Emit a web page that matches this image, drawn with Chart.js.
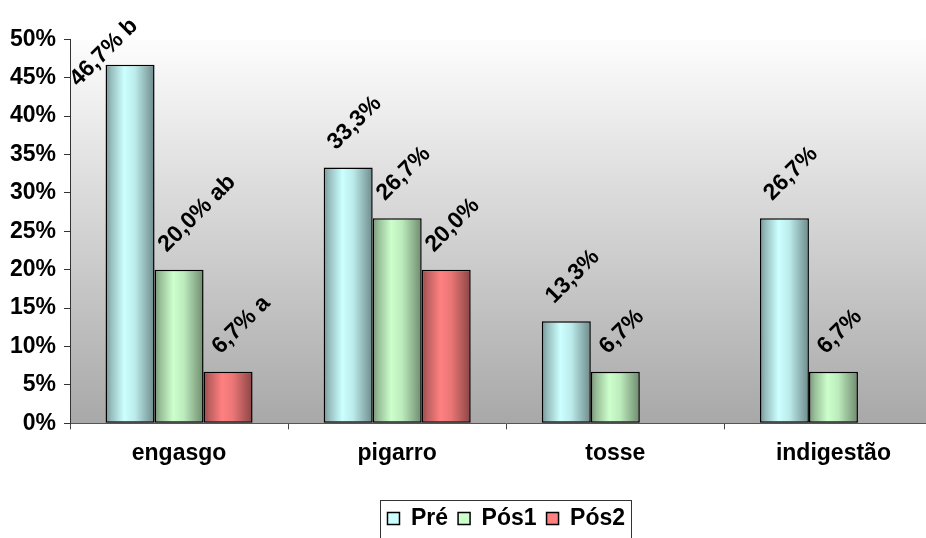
<!DOCTYPE html>
<html>
<head>
<meta charset="utf-8">
<script src="https://cdn.jsdelivr.net/npm/chart.js@4.4.1/dist/chart.umd.min.js"></script>
<style>
  html, body { margin: 0; padding: 0; background: #fff; overflow: hidden; }
  #wrap { width: 926px; height: 538px; overflow: hidden; position: relative; }
  canvas { display: block; }
</style>
</head>
<body>
<div id="wrap"><canvas id="c" width="960" height="540"></canvas></div>
<script>
// Categories and series
const categories = ['engasgo', 'pigarro', 'tosse', 'indigestão'];
const seriesNames = ['Pré', 'Pós1', 'Pós2'];
const pre  = [46.7, 33.3, 13.3, 26.7];
const pos1 = [20.0, 26.7, 6.7, 6.7];
const pos2 = [6.7, 20.0, null, null];
// Significance letters appended to the value labels
const preMarks  = ['b', '', '', ''];
const pos1Marks = ['ab', '', '', ''];
const pos2Marks = ['a', '', '', ''];
// Y axis ticks (percent)
const yTicks = [0, 5, 10, 15, 20, 25, 30, 35, 40, 45, 50];

const seriesColors = ['#ccffff', '#ccffcc', '#ff8080'];
const FONT = '"Liberation Sans", Arial, Helvetica, sans-serif';

function fmt(v) { return v.toFixed(1).replace('.', ',') + '%'; }

function shade(hex, f) {
  const n = parseInt(hex.slice(1), 16);
  const r = Math.round(((n >> 16) & 255) * f);
  const g = Math.round(((n >> 8) & 255) * f);
  const b = Math.round((n & 255) * f);
  return `rgb(${r},${g},${b})`;
}

// Grey vertical gradient behind the plot area
const plotBackground = {
  id: 'plotBackground',
  beforeDraw(chart) {
    const { ctx, chartArea: a } = chart;
    ctx.save();
    ctx.fillStyle = '#fff';
    ctx.fillRect(0, 0, chart.width, chart.height);
    const g = ctx.createLinearGradient(0, a.top, 0, a.bottom);
    g.addColorStop(0, '#fdfdfd');
    g.addColorStop(1, '#a8a8a8');
    ctx.fillStyle = g;
    ctx.fillRect(a.left, a.top, a.right - a.left, a.bottom - a.top);
    ctx.restore();
  }
};

// Cylinder-like horizontal shading of every bar
const barShading = {
  id: 'barShading',
  beforeDatasetsDraw(chart) {
    const ctx = chart.ctx;
    chart.data.datasets.forEach((ds, di) => {
      const meta = chart.getDatasetMeta(di);
      const base = seriesColors[di];
      meta.data.forEach((el, i) => {
        if (ds.data[i] == null) return;
        const x = el.x, w = el.width;
        if (!isFinite(x) || !isFinite(w)) return;
        const g = ctx.createLinearGradient(x - w / 2, 0, x + w / 2, 0);
        g.addColorStop(0, shade(base, 0.58));
        g.addColorStop(0.12, shade(base, 0.75));
        g.addColorStop(0.38, shade(base, 1));
        g.addColorStop(0.6, shade(base, 0.92));
        g.addColorStop(1, shade(base, 0.54));
        el.options = Object.assign({}, el.options, { backgroundColor: g });
      });
    });
  }
};

// Rotated value labels above the bars
const valueLabels = {
  id: 'valueLabels',
  afterDatasetsDraw(chart) {
    const ctx = chart.ctx;
    const fs = 23;
    const k = Math.SQRT1_2, asc = 0.72 * fs;
    ctx.save();
    ctx.font = `bold ${fs}px ${FONT}`;
    ctx.fillStyle = '#000';
    ctx.textAlign = 'left';
    ctx.textBaseline = 'alphabetic';
    chart.data.datasets.forEach((ds, di) => {
      const meta = chart.getDatasetMeta(di);
      meta.data.forEach((el, i) => {
        const v = ds.data[i];
        if (v == null) return;
        const num = fmt(v);
        const mark = ds.marks[i];
        const text = mark ? num + ' ' + mark : num;
        const numW = ctx.measureText(num).width;
        const fullW = ctx.measureText(text).width;
        const cx = el.x + 5;
        let sx = cx - k * (numW + asc) / 2 + k * asc;
        let sy = el.y - 17;
        const textTop = sy - k * (fullW + asc);
        if (textTop < 15) { const d = 15 - textTop; sx -= d; sy += d; }
        ctx.save();
        ctx.translate(sx, sy);
        ctx.rotate(-Math.PI / 4);
        ctx.fillText(text, 0, 0);
        ctx.restore();
      });
    });
    ctx.restore();
  }
};

// Thin frame around the legend
const legendFrame = {
  id: 'legendFrame',
  afterDraw(chart) {
    const hb = chart.legend && chart.legend.legendHitBoxes;
    if (!hb || !hb.length) return;
    const ctx = chart.ctx;
    const first = hb[0], last = hb[hb.length - 1];
    const mid = first.top + first.height / 2;
    const l = Math.round(first.left - 7) + 0.5;
    const r = Math.round(last.left + last.width + 6) + 0.5;
    ctx.save();
    ctx.strokeStyle = '#333';
    ctx.lineWidth = 1;
    ctx.strokeRect(l, Math.round(mid - 19) + 0.5, r - l, 39);
    ctx.restore();
  }
};

const tickFont = { family: FONT, size: 23, weight: 'bold' };

new Chart(document.getElementById('c'), {
  type: 'bar',
  data: {
    labels: categories,
    datasets: [
      { label: seriesNames[0], data: pre,  marks: preMarks,  backgroundColor: seriesColors[0] },
      { label: seriesNames[1], data: pos1, marks: pos1Marks, backgroundColor: seriesColors[1] },
      { label: seriesNames[2], data: pos2, marks: pos2Marks, backgroundColor: seriesColors[2] }
    ]
  },
  options: {
    responsive: false,
    animation: false,
    devicePixelRatio: 1,
    layout: { padding: { left: 0, top: 39.3, right: 17.5, bottom: 0 } },
    datasets: {
      bar: {
        categoryPercentage: 0.674,
        barPercentage: 1,
        borderColor: '#000',
        borderWidth: 1.5,
        borderSkipped: false
      }
    },
    scales: {
      x: {
        grid: { display: true, drawOnChartArea: false, drawTicks: true, tickLength: 6, color: '#444', offset: true },
        border: { display: true, color: '#555', width: 1 },
        ticks: { font: tickFont, color: '#000', padding: 11, maxRotation: 0, autoSkip: false },
        afterFit(s) { s.height = 73.7; }
      },
      y: {
        min: 0,
        max: 50,
        afterBuildTicks(s) { s.ticks = yTicks.map(v => ({ value: v })); },
        grid: { display: true, drawOnChartArea: false, drawTicks: true, tickLength: 6, color: '#333' },
        border: { display: true, color: '#333', width: 1 },
        ticks: { font: tickFont, color: '#000', padding: 8, callback: v => v + '%' },
        afterFit(s) { s.width = 70; }
      }
    },
    plugins: {
      legend: {
        position: 'bottom',
        fullSize: false,
        labels: { font: tickFont, color: '#000', boxWidth: 12, boxHeight: 12, padding: 10 }
      },
      tooltip: { enabled: false }
    }
  },
  plugins: [plotBackground, barShading, valueLabels, legendFrame]
});
</script>
</body>
</html>
